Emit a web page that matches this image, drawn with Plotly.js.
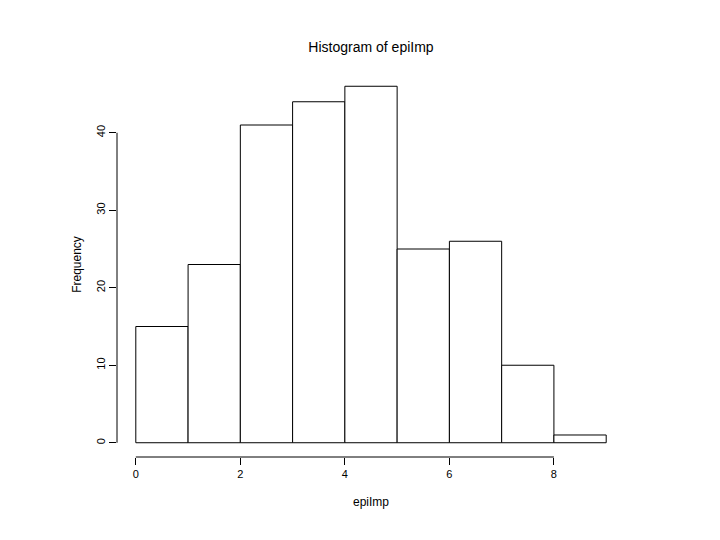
<!DOCTYPE html>
<html>
<head>
<meta charset="utf-8">
<script src="https://cdn.plot.ly/plotly-3.0.1.min.js"></script>
<style>html,body{margin:0;padding:0;background:#fff;}#plot{width:720px;height:540px;}</style>
</head>
<body>
<div id="plot"></div>
<script>
// Histogram bin edges and counts
var binStarts = [0, 1, 2, 3, 4, 5, 6, 7, 8];
var binEnds   = [1, 2, 3, 4, 5, 6, 7, 8, 9];
var counts    = [15, 23, 41, 44, 46, 25, 26, 10, 1];
var xTicks = [0, 2, 4, 6, 8];
var yTicks = [0, 10, 20, 30, 40];

var centers = binStarts.map(function(s, i){ return (s + binEnds[i]) / 2; });
var widths = binStarts.map(function(s, i){ return binEnds[i] - s; });

var font = "Liberation Sans, Arial, Helvetica, sans-serif";

var trace = {
  type: 'bar',
  x: centers,
  y: counts,
  width: widths,
  marker: {color: '#ffffff', line: {color: '#000000', width: 1}},
  hoverinfo: 'x+y'
};

var xr = [binStarts[0], binEnds[binEnds.length-1]];
var xpad = (xr[1]-xr[0])*0.04;
var ymax = Math.max.apply(null, counts);
var ypad = ymax*0.04;

var layout = {
  width: 720, height: 540,
  paper_bgcolor: '#ffffff', plot_bgcolor: '#ffffff',
  margin: {l: 117, r: 95, t: 72, b: 83, pad: 0},
  showlegend: false,
  font: {family: font, color: '#000000', size: 11},
  title: {text: 'Histogram of epiImp', font: {family: font, size: 14, color: '#000'},
          x: 0.5, xref: 'paper', xanchor: 'center', y: 1 - 47/540, yref: 'container', yanchor: 'middle'},
  xaxis: {
    range: [xr[0]-xpad, xr[1]+xpad],
    showgrid: false, zeroline: false, showline: false,
    tickmode: 'array', tickvals: xTicks, ticktext: xTicks.map(String),
    ticks: 'outside', ticklen: 7, tickwidth: 1, tickcolor: '#000',
    tickfont: {family: font, size: 11, color: '#000'},
    title: {text: 'epiImp', font: {family: font, size: 12, color: '#000'}, standoff: 18}
  },
  yaxis: {
    range: [-ypad, ymax+ypad],
    showgrid: false, zeroline: false, showline: false,
    tickmode: 'array', tickvals: yTicks, ticktext: yTicks.map(String),
    ticks: 'outside', ticklen: 7, tickwidth: 1, tickcolor: '#000',
    tickangle: -90,
    tickfont: {family: font, size: 11, color: '#000'},
    title: {text: 'Frequency', font: {family: font, size: 12, color: '#000'}, standoff: 10}
  },
  shapes: [
    {type: 'line', xref: 'x', yref: 'paper', x0: xTicks[0], x1: xTicks[xTicks.length-1], y0: 0, y1: 0,
     line: {color: '#000', width: 1}},
    {type: 'line', xref: 'paper', yref: 'y', x0: 0, x1: 0, y0: yTicks[0], y1: yTicks[yTicks.length-1],
     line: {color: '#000', width: 1}}
  ]
};

Plotly.newPlot('plot', [trace], layout, {displayModeBar: false, staticPlot: true});
</script>
</body>
</html>
